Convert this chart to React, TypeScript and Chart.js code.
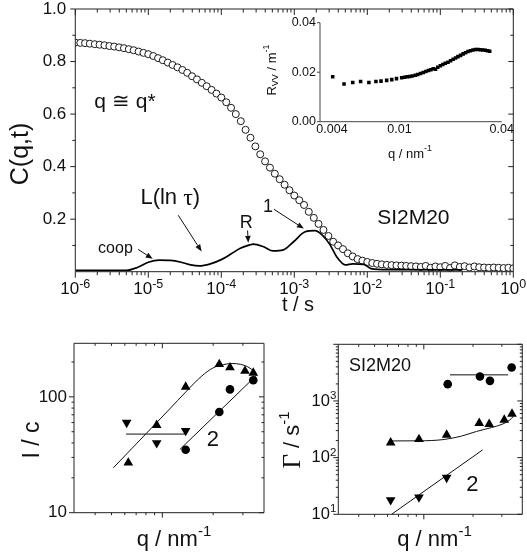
import React, { useEffect, useRef } from 'react';
import { Chart, registerables } from 'chart.js';
Chart.register(...registerables);

const FONT = '"Liberation Sans", Arial, Helvetica, sans-serif';
const SERIF = '"Liberation Serif", "DejaVu Serif", serif';
const INK = '#111';

// ---------------- main panel: C(q,t) ----------------
const lagMantissa = [1.0, 1.17, 1.36, 1.58, 1.85, 2.15, 2.51, 2.93, 3.41, 3.98, 4.64, 5.41, 6.31, 7.36, 8.58];
const lagDecades = [-6, -5, -4, -3, -2, -1];
const corrC = [
  0.872, 0.871, 0.870, 0.868, 0.866, 0.864, 0.862, 0.859, 0.857, 0.854, 0.851, 0.847, 0.843, 0.838, 0.833,
  0.828, 0.821, 0.813, 0.805, 0.796, 0.787, 0.778, 0.768, 0.757, 0.744, 0.732, 0.719, 0.706, 0.692, 0.678,
  0.663, 0.645, 0.624, 0.600, 0.573, 0.540, 0.510, 0.477, 0.447, 0.420, 0.396, 0.373, 0.352, 0.331, 0.310,
  0.290, 0.272, 0.254, 0.228, 0.205, 0.182, 0.159, 0.136, 0.114, 0.100, 0.086, 0.070, 0.058, 0.048, 0.042,
  0.037, 0.033, 0.030, 0.028, 0.026, 0.025, 0.024, 0.023, 0.022, 0.021, 0.020, 0.018, 0.022, 0.015, 0.020,
  0.017, 0.022, 0.014, 0.024, 0.018, 0.021, 0.016, 0.020, 0.017, 0.016, 0.015, 0.016, 0.015, 0.014, 0.015,
  0.013,
];
const lagTimes = [...lagDecades.flatMap((d) => lagMantissa.map((m) => m * Math.pow(10, d))), 1];

const distTimes = [1e-6, 5.0e-6, 7.08e-6, 1e-5, 1.41e-5, 2.0e-5, 2.82e-5, 3.8e-5, 5.0e-5, 7.08e-5, 1e-4, 1.35e-4,
  1.82e-4, 2.45e-4, 2.75e-4, 3.8e-4, 5.13e-4, 7.08e-4, 9.77e-4, 1.41e-3, 1.91e-3, 2.4e-3, 3.09e-3, 3.8e-3, 5.0e-3,
  6.3e-3, 8.9e-3, 1.12e-2, 2.0e-2, 0.2];
const distL = [0.005, 0.005, 0.016, 0.036, 0.044, 0.043, 0.036, 0.026, 0.022, 0.030, 0.046, 0.067, 0.089, 0.102,
  0.105, 0.095, 0.079, 0.083, 0.114, 0.152, 0.156, 0.140, 0.102, 0.057, 0.026, 0.030, 0.028, 0.012, 0.008, 0.007];

const mainXTicks = [1e-6, 1e-5, 1e-4, 1e-3, 1e-2, 1e-1, 1];
const mainXTickBase = ['10', '10', '10', '10', '10', '10', '10'];
const mainXTickExp = ['-6', '-5', '-4', '-3', '-2', '-1', '0'];
const minorMantissa = [2, 3, 4, 5, 6, 7, 8, 9];
const mainXMinor = lagDecades.flatMap((d) => minorMantissa.map((m) => m * Math.pow(10, d)));
const mainYTicks = [0.2, 0.4, 0.6, 0.8, 1.0];
const mainYTickLabels = ['0.2', '0.4', '0.6', '0.8', '1.0'];
const mainYMinor = [0.1, 0.3, 0.5, 0.7, 0.9];

// ---------------- inset: R_VV vs q ----------------
const insetQ = [0.00404, 0.00471, 0.0053, 0.0059, 0.0066, 0.00726, 0.00778, 0.0084, 0.009, 0.0096, 0.0103, 0.0107,
  0.0111, 0.0115, 0.0119, 0.0124, 0.0128, 0.0133, 0.0138, 0.0143, 0.0148, 0.0153, 0.0158, 0.0163, 0.0168, 0.0174,
  0.018, 0.0186, 0.0193, 0.02, 0.0207, 0.0214, 0.0221, 0.0229, 0.0237, 0.0245, 0.0253, 0.0262, 0.0271, 0.028,
  0.029, 0.03, 0.031, 0.032, 0.033, 0.034];
const insetR = [0.0182, 0.0152, 0.0158, 0.0162, 0.0158, 0.0162, 0.0164, 0.0167, 0.017, 0.0174, 0.0178, 0.018,
  0.0182, 0.0183, 0.0185, 0.0188, 0.0191, 0.0195, 0.0199, 0.0203, 0.0207, 0.021, 0.0214, 0.0212, 0.022, 0.0226,
  0.0231, 0.0236, 0.024, 0.0246, 0.0252, 0.0257, 0.0263, 0.0268, 0.0274, 0.0279, 0.0284, 0.0287, 0.029, 0.0292,
  0.0292, 0.0291, 0.029, 0.0289, 0.0287, 0.0285];
const insetXTicks = [0.004, 0.01, 0.04];
const insetXTickLabels = ['0.004', '0.01', '0.04'];
const insetYTicks = [0, 0.02, 0.04];
const insetYTickLabels = ['0.00', '0.02', '0.04'];

// ---------------- bottom-left: I/c vs q ----------------
const icUpQ = [0.00629, 0.00926, 0.01375, 0.02175, 0.02516, 0.03087, 0.03456];
const icUp = [27, 57, 122, 191, 179, 167, 161];
const icDownQ = [0.00615, 0.00926, 0.01375];
const icDown = [60, 40, 51];
const icCircQ = [0.01375, 0.02175, 0.02516, 0.03456];
const icCirc = [35, 74, 116, 139];
const icFitUpQ = [0.00513, 0.008, 0.011, 0.01375, 0.017, 0.02, 0.023, 0.0262, 0.029, 0.032, 0.0355];
const icFitUp = [24.4, 48, 78, 110, 150, 178, 190, 194, 191, 182, 164];
const icFlatQ = [0.0061, 0.0136];
const icFlat = [47.7, 47.7];
const icFit2Q = [0.01272, 0.0362];
const icFit2 = [35.2, 154];
const icYTicks = [10, 100];
const icYTickLabels = ['10', '100'];

// ---------------- bottom-right: Gamma vs q ----------------
const gCircQ = [0.014, 0.02203, 0.02537, 0.03443];
const gCirc = [1980, 2700, 2264, 3890];
const gUpQ = [0.00627, 0.00934, 0.01379, 0.02182, 0.0251, 0.03103, 0.0346];
const gUp = [184, 211, 252, 405, 389, 463, 592];
const gDownQ = [0.00627, 0.00934, 0.01379];
const gDown = [17.9, 20, 44.4];
const gFitCircQ = [0.01445, 0.0328];
const gFitCirc = [2890, 2890];
const gFitUpQ = [0.0062, 0.0094, 0.0131, 0.017, 0.021, 0.026, 0.0305, 0.0335, 0.0352];
const gFitUp = [197, 198, 208, 240, 290, 340, 394, 460, 530];
const gFit2Q = [0.00635, 0.02289];
const gFit2 = [10, 137];
const gYTicks = [10, 100, 1000];
const gYTickBase = ['10', '10', '10'];
const gYTickExp = ['1', '2', '3'];

const qMinor = [0.004, 0.005, 0.006, 0.007, 0.008, 0.009, 0.02, 0.03];
const qMajor = [0.01];
const icYMinor = [20, 30, 40, 50, 60, 70, 80, 90, 200];
const gYDecades = [1, 2, 3];
const gYMinor = gYDecades.flatMap((d) => minorMantissa.map((m) => m * Math.pow(10, d)));
const gYMajor = [10, 100, 1000, 10000];

// ---------------- helpers ----------------
type Seg = { t: string; s: number; dy?: number; f?: string };
type TextSpec = { segs: Seg[]; x: number; y: number; data?: boolean; rot?: number; align?: 'center' | 'right' };
type TickSpec = { axis: 'x' | 'y'; side: 'top' | 'bottom' | 'left' | 'right'; values: number[]; len: number; inward: boolean };
type LabelSpec = { axis: 'x' | 'y'; values: number[]; segs: Seg[][]; offset: number };
type Spec = {
  frame: { sides: string[]; color: string };
  ticks: TickSpec[];
  labels: LabelSpec[];
  texts: TextSpec[];
  arrows: { x1: number; y1: number; x2: number; y2: number }[];
};

function drawRich(ctx: CanvasRenderingContext2D, segs: Seg[], x: number, y: number, rot = 0, align = 'center') {
  ctx.save();
  ctx.translate(x, y);
  if (rot) ctx.rotate(rot);
  ctx.textBaseline = 'middle';
  ctx.textAlign = 'left';
  ctx.fillStyle = INK;
  const ws = segs.map((s) => {
    ctx.font = `${s.s}px ${s.f || FONT}`;
    return ctx.measureText(s.t).width;
  });
  const total = ws.reduce((a, b) => a + b, 0);
  let cx = align === 'right' ? -total : -total / 2;
  segs.forEach((s, i) => {
    ctx.font = `${s.s}px ${s.f || FONT}`;
    ctx.fillText(s.t, cx, s.dy || 0);
    cx += ws[i];
  });
  ctx.restore();
}

function makeDecor(spec: Spec) {
  return {
    id: 'decor',
    afterDraw(chart: any) {
      const ctx: CanvasRenderingContext2D = chart.ctx;
      const ca = chart.chartArea;
      const xs = chart.scales.x;
      const ys = chart.scales.y;
      ctx.save();
      ctx.strokeStyle = spec.frame.color;
      ctx.lineWidth = 1;
      ctx.beginPath();
      const L = ca.left, R = ca.right, T = ca.top, B = ca.bottom;
      if (spec.frame.sides.includes('left')) { ctx.moveTo(L, T); ctx.lineTo(L, B); }
      if (spec.frame.sides.includes('bottom')) { ctx.moveTo(L, B); ctx.lineTo(R, B); }
      if (spec.frame.sides.includes('top')) { ctx.moveTo(L, T); ctx.lineTo(R, T); }
      if (spec.frame.sides.includes('right')) { ctx.moveTo(R, T); ctx.lineTo(R, B); }
      ctx.stroke();
      ctx.beginPath();
      for (const tk of spec.ticks) {
        for (const v of tk.values) {
          if (tk.axis === 'x') {
            const px = xs.getPixelForValue(v);
            if (px < L - 0.5 || px > R + 0.5) continue;
            const y0 = tk.side === 'bottom' ? B : T;
            const sign = (tk.side === 'bottom') === tk.inward ? -1 : 1;
            ctx.moveTo(px, y0);
            ctx.lineTo(px, y0 + sign * tk.len);
          } else {
            const py = ys.getPixelForValue(v);
            if (py < T - 0.5 || py > B + 0.5) continue;
            const x0 = tk.side === 'left' ? L : R;
            const sign = (tk.side === 'left') === tk.inward ? 1 : -1;
            ctx.moveTo(x0, py);
            ctx.lineTo(x0 + sign * tk.len, py);
          }
        }
      }
      ctx.stroke();
      for (const lb of spec.labels) {
        lb.values.forEach((v, i) => {
          if (lb.axis === 'x') drawRich(ctx, lb.segs[i], xs.getPixelForValue(v), B + lb.offset, 0, 'center');
          else drawRich(ctx, lb.segs[i], L - lb.offset, ys.getPixelForValue(v), 0, 'right');
        });
      }
      ctx.strokeStyle = INK;
      ctx.fillStyle = INK;
      ctx.lineWidth = 1;
      for (const a of spec.arrows) {
        const x1 = xs.getPixelForValue(a.x1), y1 = ys.getPixelForValue(a.y1);
        const x2 = xs.getPixelForValue(a.x2), y2 = ys.getPixelForValue(a.y2);
        const ang = Math.atan2(y2 - y1, x2 - x1);
        const hl = 7, hw = 2.8;
        const bx = x2 - hl * Math.cos(ang), by = y2 - hl * Math.sin(ang);
        ctx.beginPath();
        ctx.moveTo(x1, y1);
        ctx.lineTo(bx, by);
        ctx.stroke();
        ctx.beginPath();
        ctx.moveTo(x2, y2);
        ctx.lineTo(bx - hw * Math.sin(ang), by + hw * Math.cos(ang));
        ctx.lineTo(bx + hw * Math.sin(ang), by - hw * Math.cos(ang));
        ctx.closePath();
        ctx.fill();
      }
      for (const t of spec.texts) {
        const x = t.data ? xs.getPixelForValue(t.x) : t.x;
        const y = t.data ? ys.getPixelForValue(t.y) : t.y;
        drawRich(ctx, t.segs, x, y, t.rot || 0, t.align || 'center');
      }
      ctx.restore();
    },
  };
}

function axis(type: string, min: number, max: number, isX: boolean, size: number, vals: number[], labels: string[], fontSize: number, padding: number) {
  return {
    type,
    min,
    max,
    grid: { display: false, drawTicks: false },
    border: { display: false },
    afterBuildTicks: (s: any) => {
      s.ticks = vals.map((v) => ({ value: v }));
    },
    afterFit: (s: any) => {
      if (isX) s.height = size;
      else s.width = size;
      s.paddingLeft = 0;
      s.paddingRight = 0;
      s.paddingTop = 0;
      s.paddingBottom = 0;
    },
    ticks: {
      display: labels.length > 0,
      autoSkip: false,
      maxRotation: 0,
      minRotation: 0,
      padding,
      color: INK,
      font: { family: FONT, size: fontSize },
      callback: (_v: any, i: number) => (labels[i] !== undefined ? labels[i] : ''),
    },
  };
}

function baseOptions(padding: any, scales: any) {
  return {
    animation: false,
    responsive: false,
    maintainAspectRatio: false,
    devicePixelRatio: 1,
    events: [],
    layout: { autoPadding: false, padding },
    plugins: { legend: { display: false }, tooltip: { enabled: false }, title: { display: false } },
    scales,
  };
}

const pts = (xs: number[], ys: number[]) => xs.map((x, i) => ({ x, y: ys[i] }));
const powSegs = (bases: string[], exps: string[], bs: number, es: number, dy: number): Seg[][] =>
  bases.map((b, i) => [{ t: b, s: bs }, { t: exps[i], s: es, dy }]);

function sideTicks(axisName: 'x' | 'y', sides: ['bottom' | 'left', 'top' | 'right'], major: number[], minor: number[], majLen: number, minLen: number): TickSpec[] {
  return [
    { axis: axisName, side: sides[0], values: major, len: majLen, inward: false },
    { axis: axisName, side: sides[0], values: minor, len: minLen, inward: false },
    { axis: axisName, side: sides[1], values: major, len: majLen, inward: true },
    { axis: axisName, side: sides[1], values: minor, len: minLen, inward: true },
  ];
}

// ---------------- chart builders ----------------
function makeMain(c: HTMLCanvasElement) {
  const spec: Spec = {
    frame: { sides: ['left', 'bottom', 'top', 'right'], color: '#222' },
    ticks: [
      ...sideTicks('x', ['bottom', 'top'], mainXTicks, mainXMinor, 6, 3.5),
      ...sideTicks('y', ['left', 'right'], mainYTicks, mainYMinor, 5, 3),
    ],
    labels: [{ axis: 'x', values: mainXTicks, segs: powSegs(mainXTickBase, mainXTickExp, 17, 12.5, -5.5), offset: 18 }],
    texts: [
      { segs: [{ t: 'q ≅ q*', s: 21 }], x: 4.79e-6, y: 0.644, data: true },
      { segs: [{ t: 'L(ln ', s: 22 }, { t: 'τ', s: 24, f: SERIF }, { t: ')', s: 22 }], x: 2.0e-5, y: 0.279, data: true },
      { segs: [{ t: 'R', s: 18 }], x: 2.19e-4, y: 0.187, data: true },
      { segs: [{ t: '1', s: 18 }], x: 4.37e-4, y: 0.245, data: true },
      { segs: [{ t: 'SI2M20', s: 21 }], x: 0.0427, y: 0.202, data: true },
      { segs: [{ t: 'coop', s: 16 }], x: 3.55e-6, y: 0.087, data: true },
      { segs: [{ t: 'C(q,t)', s: 25 }], x: 21, y: 154, rot: -Math.PI / 2 },
      { segs: [{ t: 't / s', s: 20 }], x: 298, y: 305 },
    ],
    arrows: [
      { x1: 7.24e-6, y1: 0.085, x2: 1.15e-5, y2: 0.049 },
      { x1: 2.57e-5, y1: 0.215, x2: 5.37e-5, y2: 0.077 },
      { x1: 2.29e-4, y1: 0.157, x2: 2.34e-4, y2: 0.11 },
      { x1: 5.25e-4, y1: 0.238, x2: 1.35e-3, y2: 0.164 },
    ],
  };
  return new Chart(c, {
    type: 'scatter',
    data: {
      datasets: [
        {
          data: pts(lagTimes, corrC),
          pointStyle: 'circle',
          pointRadius: 3.5,
          pointBorderWidth: 1,
          pointBorderColor: '#1a1a1a',
          pointBackgroundColor: '#fff',
          order: 2,
        },
        {
          data: pts(distTimes, distL),
          showLine: true,
          pointRadius: 0,
          borderColor: '#000',
          borderWidth: 1.7,
          cubicInterpolationMode: 'monotone',
          order: 1,
        },
      ],
    } as any,
    options: baseOptions({ left: 0, top: 9, right: 13.7, bottom: 0 }, {
      x: axis('logarithmic', 1e-6, 1, true, 48.3, mainXTicks, [], 17, 11),
      y: axis('linear', 0, 1, false, 75.3, mainYTicks, mainYTickLabels, 17, 9),
    }) as any,
    plugins: [makeDecor(spec)],
  });
}

function makeInset(c: HTMLCanvasElement) {
  const spec: Spec = {
    frame: { sides: ['left', 'bottom'], color: '#444' },
    ticks: [{ axis: 'y', side: 'left', values: insetYTicks, len: 3, inward: false }],
    labels: [],
    texts: [
      { segs: [{ t: 'R', s: 13 }, { t: 'VV', s: 9, dy: 4 }, { t: ' / m', s: 13 }, { t: '-1', s: 9, dy: -5 }], x: 22, y: 70, rot: -Math.PI / 2 },
      { segs: [{ t: 'q / nm', s: 13 }, { t: '-1', s: 9, dy: -5 }], x: 160, y: 154 },
    ],
    arrows: [],
  };
  return new Chart(c, {
    type: 'scatter',
    data: {
      datasets: [
        {
          data: pts(insetQ, insetR),
          pointStyle: 'rect',
          pointRadius: 2.5,
          pointBorderWidth: 0,
          pointBackgroundColor: '#000',
          pointBorderColor: '#000',
        },
      ],
    } as any,
    options: baseOptions({ left: 0, top: 22.7, right: 25.3, bottom: 0 }, {
      x: axis('logarithmic', 0.0034, 0.04, true, 48.3, insetXTicks, insetXTickLabels, 12.5, 0),
      y: axis('linear', 0, 0.04, false, 70, insetYTicks, insetYTickLabels, 12.5, 4),
    }) as any,
    plugins: [makeDecor(spec)],
  });
}

const tri = (data: any, rot: number) => ({
  data,
  pointStyle: 'triangle',
  pointRotation: rot,
  pointRadius: 5.6,
  pointBorderWidth: 0,
  pointBackgroundColor: '#000',
  pointBorderColor: '#000',
  order: 1,
});
const dot = (data: any) => ({
  data,
  pointStyle: 'circle',
  pointRadius: 4.3,
  pointBorderWidth: 0,
  pointBackgroundColor: '#000',
  pointBorderColor: '#000',
  order: 1,
});
const fit = (data: any, color: string, w: number) => ({
  data,
  showLine: true,
  pointRadius: 0,
  borderColor: color,
  borderWidth: w,
  cubicInterpolationMode: 'monotone',
  order: 2,
});

function makeIc(c: HTMLCanvasElement) {
  const spec: Spec = {
    frame: { sides: ['left', 'bottom', 'top', 'right'], color: '#222' },
    ticks: [
      ...sideTicks('x', ['bottom', 'top'], qMajor, qMinor, 5, 2.5),
      ...sideTicks('y', ['left', 'right'], icYTicks, icYMinor, 5, 2.5),
    ],
    labels: [],
    texts: [
      { segs: [{ t: '2', s: 22 }], x: 0.01995, y: 42.4, data: true },
      { segs: [{ t: 'I / c', s: 23 }], x: 33, y: 110, rot: -Math.PI / 2 },
      { segs: [{ t: 'q / nm', s: 22 }, { t: '-1', s: 15, dy: -8 }], x: 174, y: 210 },
    ],
    arrows: [],
  };
  return new Chart(c, {
    type: 'scatter',
    data: {
      datasets: [
        tri(pts(icUpQ, icUp), 0),
        tri(pts(icDownQ, icDown), 180),
        dot(pts(icCircQ, icCirc)),
        fit(pts(icFitUpQ, icFitUp), '#111', 1),
        fit(pts(icFlatQ, icFlat), '#777', 1.8),
        fit(pts(icFit2Q, icFit2), '#111', 1),
      ],
    } as any,
    options: baseOptions({ left: 0, top: 13.3, right: 6, bottom: 0 }, {
      x: axis('logarithmic', 0.003, 0.04, true, 47.3, [], [], 16, 0),
      y: axis('logarithmic', 10, 290, false, 74, icYTicks, icYTickLabels, 17, 7),
    }) as any,
    plugins: [makeDecor(spec)],
  });
}

function makeGamma(c: HTMLCanvasElement) {
  const spec: Spec = {
    frame: { sides: ['left', 'bottom', 'top', 'right'], color: '#222' },
    ticks: [
      ...sideTicks('x', ['bottom', 'top'], qMajor, qMinor, 5, 2.5),
      ...sideTicks('y', ['left', 'right'], gYMajor, gYMinor, 5, 2.5),
    ],
    labels: [{ axis: 'y', values: gYTicks, segs: powSegs(gYTickBase, gYTickExp, 16.5, 11.5, -5), offset: 2 }],
    texts: [
      { segs: [{ t: 'SI2M20', s: 18 }], x: 0.0054, y: 4080, data: true },
      { segs: [{ t: '2', s: 22 }], x: 0.01983, y: 33.6, data: true },
      { segs: [{ t: 'Γ', s: 25, f: SERIF }, { t: ' / s', s: 22 }, { t: '-1', s: 15, dy: -8 }], x: 23, y: 110, rot: -Math.PI / 2 },
      { segs: [{ t: 'q / nm', s: 22 }, { t: '-1', s: 15, dy: -8 }], x: 164.5, y: 210 },
    ],
    arrows: [],
  };
  return new Chart(c, {
    type: 'scatter',
    data: {
      datasets: [
        dot(pts(gCircQ, gCirc)),
        tri(pts(gUpQ, gUp), 0),
        tri(pts(gDownQ, gDown), 180),
        fit(pts(gFitCircQ, gFitCirc), '#111', 1),
        fit(pts(gFitUpQ, gFitUp), '#111', 1),
        fit(pts(gFit2Q, gFit2), '#111', 1),
      ],
    } as any,
    options: baseOptions({ left: 0, top: 14.3, right: 4.7, bottom: 0 }, {
      x: axis('logarithmic', 0.003, 0.04, true, 45.7, [], [], 16, 0),
      y: axis('logarithmic', 10, 10000, false, 68.3, gYTicks, [], 16, 3),
    }) as any,
    plugins: [makeDecor(spec)],
  });
}

function ChartCanvas(props: { left: number; top: number; width: number; height: number; make: (c: HTMLCanvasElement) => Chart }) {
  const ref = useRef<HTMLCanvasElement>(null);
  useEffect(() => {
    const chart = props.make(ref.current as HTMLCanvasElement);
    return () => chart.destroy();
  }, []);
  return (
    <canvas
      ref={ref}
      width={props.width}
      height={props.height}
      style={{ position: 'absolute', left: props.left, top: props.top, width: props.width, height: props.height }}
    />
  );
}

export default function App() {
  return (
    <div style={{ position: 'absolute', left: 0, top: 0, width: 527, height: 560, background: '#fff', overflow: 'hidden' }}>
      <ChartCanvas left={0} top={0} width={527} height={320} make={makeMain} />
      <ChartCanvas left={250} top={0} width={277} height={170} make={makeInset} />
      <ChartCanvas left={0} top={330} width={270} height={230} make={makeIc} />
      <ChartCanvas left={270} top={330} width={257} height={230} make={makeGamma} />
    </div>
  );
}
